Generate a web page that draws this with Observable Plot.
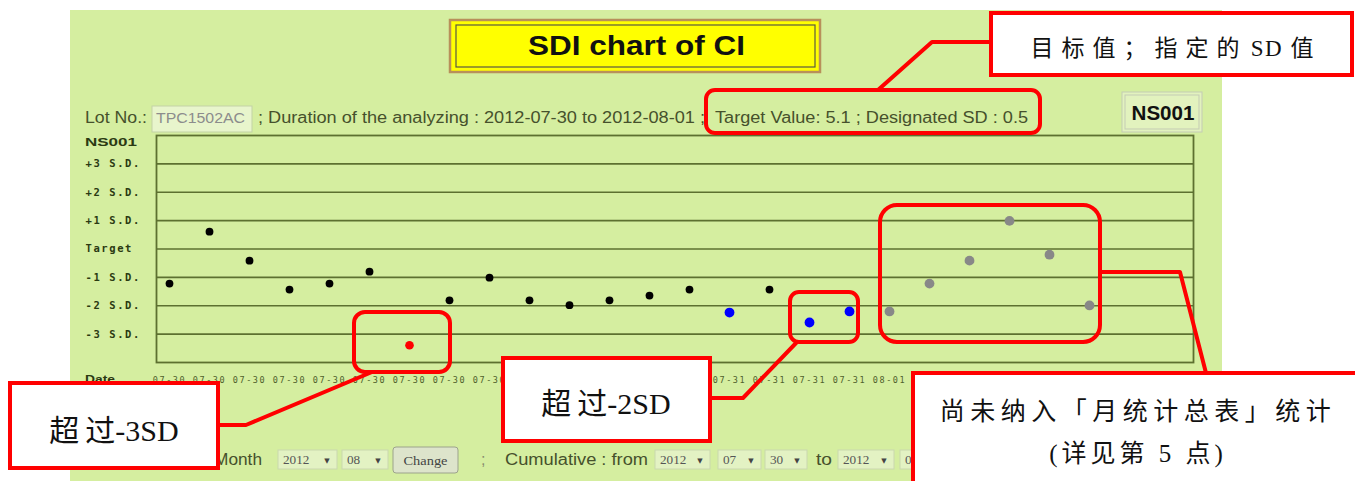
<!DOCTYPE html>
<html><head><meta charset="utf-8">
<script src="https://cdn.jsdelivr.net/npm/d3@7"></script>
<script src="https://cdn.jsdelivr.net/npm/@observablehq/plot@0.6"></script>
<style>
html,body{margin:0;padding:0;background:#fff;}
#wrap{position:relative;width:1355px;height:481px;overflow:hidden;}
#bg{position:absolute;left:70px;top:10px;width:1152px;height:471px;background:#d5eea0;}
#chart{position:absolute;left:0;top:0;}
#over{position:absolute;left:0;top:0;}
</style></head><body>
<div id="wrap"><div id="bg"></div><div id="chart"></div><svg id="over" width="1355" height="481"></svg></div>
<script>
// ---- data ----
const dates = ["07-30","07-30","07-30","07-30","07-30","07-30","07-30","07-30","07-30","07-30","07-30",
               "07-31","07-31","07-31","07-31","07-31","07-31","07-31",
               "08-01","08-01","08-01","08-01","08-01","08-01"];
const sdi = [-1.22, 0.61, -0.41, -1.43, -1.22, -0.80, -3.39, -1.81, -1.01, -1.81, -1.98, -1.81,
             -1.64, -1.43, -2.24, -1.43, -2.59, -2.20, -2.20, -1.22, -0.41, 0.99, -0.20, -1.99];
const status = ["in","in","in","in","in","in","over3","in","in","in","in","in",
                "in","in","over2","in","over2","over2","pending","pending","pending","pending","pending","pending"];
const sdTicks = [3, 2, 1, 0, -1, -2, -3];
const sdTickLabels = ["+3 S.D.","+2 S.D.","+1 S.D.","Target","-1 S.D.","-2 S.D.","-3 S.D."];
const statusKeys = ["in","over3","over2","pending"];
const statusColors = ["#000000","#ff0000","#0000ff","#888888"];
const statusRadius = [3.9, 4.3, 4.9, 4.9];
const titleText = "SDI chart of CI";
const lotNo = "TPC1502AC";
const durationText = "; Duration of the analyzing : 2012-07-30 to 2012-08-01 ;";
const targetText = "Target Value: 5.1 ; Designated SD : 0.5";
const controlName = "NS001";

const rows = sdi.map((v, i) => ({i, sdi: v, date: dates[i], status: status[i]}));
const grid = "#5d7030";

const chart = Plot.plot({
  width: 1355, height: 481,
  marginLeft: 156, marginRight: 162, marginTop: 135, marginBottom: 119,
  x: {type: "linear", domain: [-0.325, 25.6]},
  y: {domain: [-4, 4]},
  style: {background: "transparent", overflow: "visible", fontFamily: "DejaVu Sans Mono"},
  marks: [
    Plot.ruleY(sdTicks, {stroke: grid, strokeWidth: 1.6}),
    Plot.frame({stroke: grid, strokeWidth: 1.8}),
    Plot.axisY({ticks: sdTicks, tickFormat: d => sdTickLabels[sdTicks.indexOf(d)], tickSize: 0, tickPadding: 71,
      textAnchor: "start", fontSize: 10.5, fontWeight: "bold", fill: "#2b3a12", label: null}),
    Plot.axisX({ticks: d3.range(dates.length), tickFormat: i => dates[i], tickSize: 0, tickPadding: 14,
      fontSize: 8.5, fill: "#4f602c", label: null}),
    ...statusKeys.map((k, j) => Plot.dot(rows, {filter: d => d.status === k, x: "i", y: "sdi",
      r: statusRadius[j], fill: statusColors[j], stroke: "none"}))
  ]
});
document.getElementById("chart").appendChild(chart);
chart.querySelectorAll('[aria-label="y-axis tick label"] text').forEach(t => t.setAttribute("letter-spacing", "1.6"));
chart.querySelectorAll('[aria-label="x-axis tick label"] text').forEach(t => t.setAttribute("letter-spacing", "1.6"));

// ---- decorations ----
const over = d3.select("#over");
function rect(x, y, w, h, a) { const r = over.append("rect").attr("x", x).attr("y", y).attr("width", w).attr("height", h); for (const k in a) r.attr(k, a[k]); return r; }
function text(x, y, s, a) { const t = over.append("text").attr("x", x).attr("y", y).text(s); for (const k in a) t.attr(k, a[k]); return t; }
function mixed(x, y, parts, a) {
  const t = over.append("text").attr("x", x).attr("y", y);
  for (const k in a) t.attr(k, a[k]);
  parts.forEach(([s, ls]) => t.append("tspan").attr("letter-spacing", ls).text(s));
  return t;
}
function path(d, a) { const p = over.append("path").attr("d", d); for (const k in a) p.attr(k, a[k]); return p; }
const sans = "Liberation Sans, Arial, sans-serif";
const serifCJK = "'Liberation Serif', 'Noto Sans CJK SC', serif";
const rowFill = "#46512c";

// title
rect(450, 20, 370, 52, {fill: "#ffff00", stroke: "#b8905a", "stroke-width": 2.5});
rect(456, 25, 359, 42, {fill: "none", stroke: "#5a5a40", "stroke-width": 1.2});
text(636.5, 55, titleText, {"text-anchor": "middle", "font-family": sans, "font-weight": "bold", "font-size": 27, fill: "#111", textLength: 217, lengthAdjust: "spacingAndGlyphs"});

// info row
text(85, 123, "Lot No.:", {"font-family": sans, "font-size": 16, fill: rowFill, textLength: 62, lengthAdjust: "spacingAndGlyphs"});
rect(152, 106, 100, 26, {fill: "#e8f5cc", stroke: "#c3d2a5", "stroke-width": 1});
text(156, 123, lotNo, {"font-family": sans, "font-size": 14, fill: "#8c8c8c", textLength: 89, lengthAdjust: "spacingAndGlyphs"});
text(258, 123, durationText, {"font-family": sans, "font-size": 16, fill: rowFill, textLength: 447, lengthAdjust: "spacingAndGlyphs"});
text(715, 123, targetText, {"font-family": sans, "font-size": 16, fill: rowFill, textLength: 313, lengthAdjust: "spacingAndGlyphs"});

// control box
rect(1122, 92, 80, 40, {fill: "#e2f2be", stroke: "#c4cbb4", "stroke-width": 1});
rect(1125, 95, 74, 34, {fill: "none", stroke: "#c4cbb4", "stroke-width": 1});
text(1163, 120, controlName, {"text-anchor": "middle", "font-family": sans, "font-weight": "bold", "font-size": 20, fill: "#111", textLength: 63, lengthAdjust: "spacingAndGlyphs"});

// axis heads
text(85, 146, controlName, {"font-family": sans, "font-weight": "bold", "font-size": 11, fill: "#2b3a12", textLength: 52, lengthAdjust: "spacingAndGlyphs"});
text(85, 383, "Date", {"font-family": sans, "font-weight": "bold", "font-size": 11, fill: "#2b3a12", textLength: 30, lengthAdjust: "spacingAndGlyphs"});

// bottom controls
function select(x, w, val) {
  rect(x, 450, w, 19, {fill: "#e3f2c3", stroke: "#cad7ae", "stroke-width": 1});
  text(x + 5, 464, val, {"font-family": "Liberation Serif", "font-size": 13, fill: "#555", textLength: val.length * 6.6, lengthAdjust: "spacingAndGlyphs"});
  text(x + w - 10, 463, "▼", {"font-family": "DejaVu Sans", "font-size": 7, fill: "#444", "text-anchor": "middle"});
}
text(214, 465, "Month", {"font-family": sans, "font-size": 16, fill: rowFill, textLength: 48, lengthAdjust: "spacingAndGlyphs"});
select(278, 59, "2012");
select(342, 46, "08");
rect(393, 447, 65, 26, {fill: "#dde4cb", stroke: "#9ca38c", "stroke-width": 1, rx: 3});
text(425.5, 465, "Change", {"text-anchor": "middle", "font-family": "Liberation Serif", "font-size": 12, fill: "#444", textLength: 44, lengthAdjust: "spacingAndGlyphs"});
text(481, 465, ";", {"font-family": sans, "font-size": 16, fill: "#8a9070"});
text(505, 465, "Cumulative : from", {"font-family": sans, "font-size": 16, fill: rowFill, textLength: 143, lengthAdjust: "spacingAndGlyphs"});
select(655, 55, "2012");
select(718, 43, "07");
select(765, 42, "30");
text(816, 465, "to", {"font-family": sans, "font-size": 16, fill: rowFill, textLength: 16, lengthAdjust: "spacingAndGlyphs"});
select(838, 56, "2012");
select(900, 45, "07");

// annotations
const red = {fill: "none", stroke: "#ff0000", "stroke-width": 4, "stroke-linejoin": "round"};
rect(706, 90, 334, 43, {...red, rx: 9});
rect(354, 312, 96, 60, {...red, rx: 11});
rect(790, 292, 68, 50, {...red, rx: 9});
rect(880, 205, 220, 137, {...red, rx: 17});
path("M990,42 L932,42 L878,90", red);
path("M372,372 L246,425 L218,425", red);
path("M797,342 L743,398 L710,398", red);
path("M1100,272 L1180,272 L1206,373", red);

const box = {fill: "#ffffff", stroke: "#ff0000", "stroke-width": 4};
const cjk = {"text-anchor": "middle", "font-family": serifCJK, fill: "#111"};
rect(991, 13, 361, 62, box);
mixed(1172, 56, [["目标值；指定", 8], ["的", 4], ["\u00a0SD\u00a0", 1.5], ["值", 0]], {...cjk, "font-size": 23});
rect(10, 383, 208, 85, box);
mixed(114, 441, [["超", 6], ["过-3SD", 0]], {...cjk, "font-size": 30});
rect(503, 358, 207, 83, box);
mixed(606, 414, [["超", 6], ["过-2SD", 0]], {...cjk, "font-size": 30});
rect(913, 373, 450, 120, box);
text(1138, 420, "尚未纳入「月统计总表」统计", {...cjk, "font-size": 25, "letter-spacing": 5.5});
text(1138, 462, "(详见第 5 点)", {...cjk, "font-size": 25, "letter-spacing": 4});
</script>
</body></html>
